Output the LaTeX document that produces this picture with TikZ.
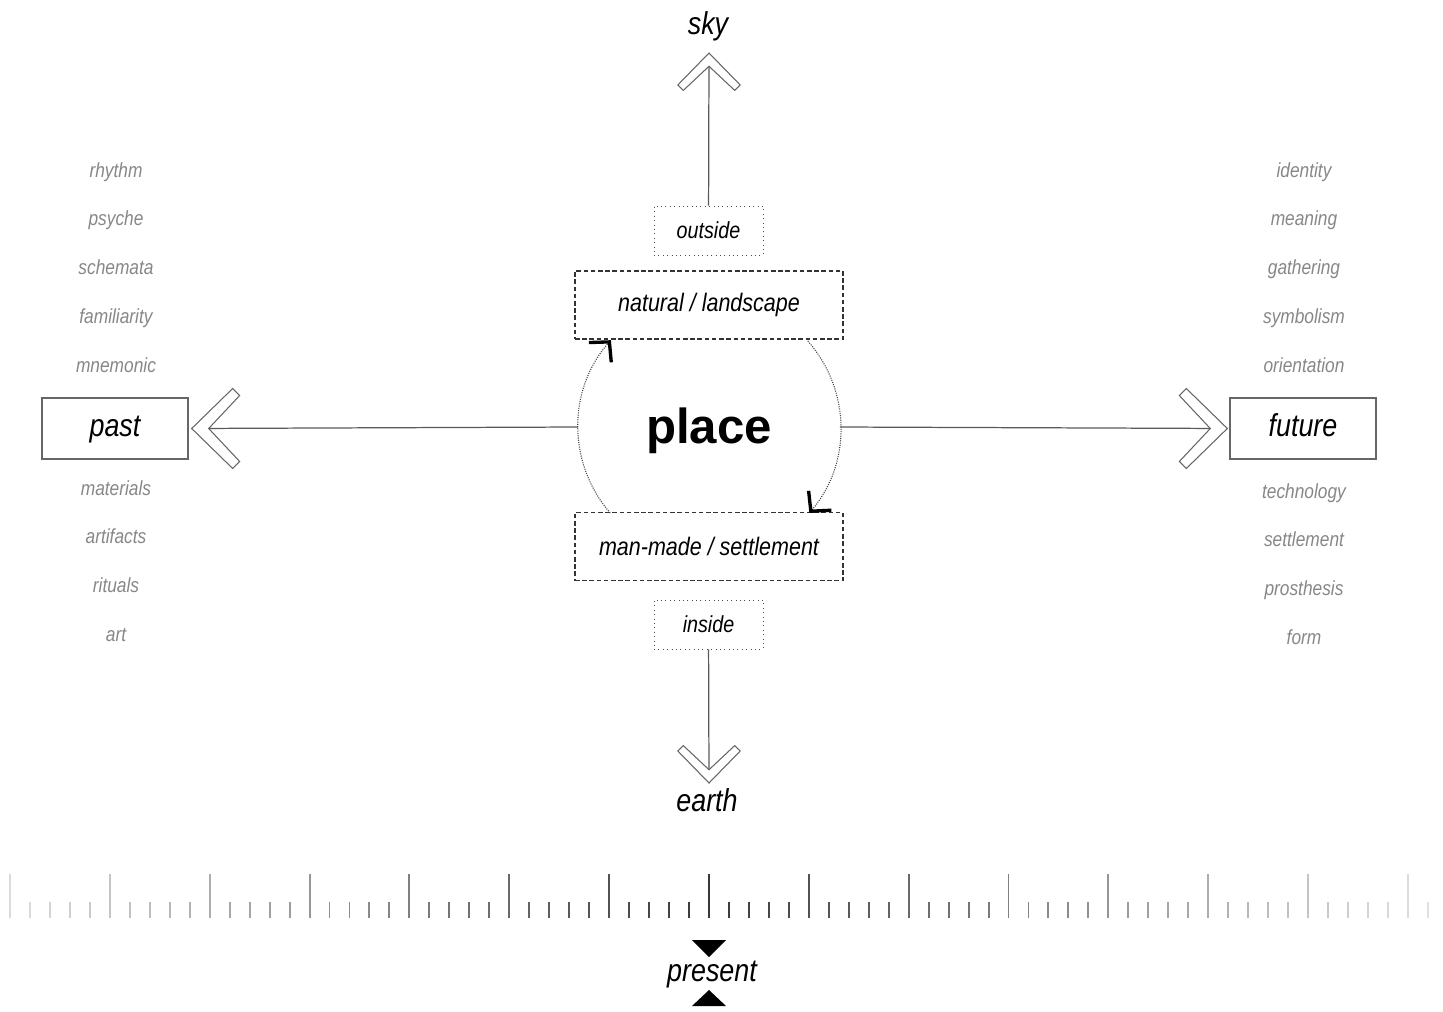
\documentclass[tikz,border=0pt]{standalone}
\usepackage{fontspec}
\setmainfont{Liberation Sans}[FakeStretch=0.85]
\newfontfamily\placefont{Liberation Sans}
\usetikzlibrary{arrows.meta,calc}

\begin{document}
\begin{tikzpicture}[x=0.02cm,y=0.02cm,
	bigword/.style={font=\itshape\fontsize{18}{21}\selectfont,inner sep=0pt,text height=13.5pt,text depth=4pt},
	sideword/.style={font=\itshape\fontsize{11.6}{14}\selectfont,text=black!47,inner sep=0pt,text height=8.5pt,text depth=2.6pt},
	endbox/.style={draw=black!60,line width=0.8pt,minimum width=2.92cm,minimum height=1.22cm,inner sep=0pt,text height=13pt,text depth=3.6pt,font=\itshape\fontsize{18}{21}\selectfont},
	midbox/.style={draw=black!80,line width=0.7pt,dash pattern=on 2.6pt off 1.5pt,fill=white,minimum width=5.36cm,minimum height=1.36cm,font=\itshape\fontsize{14.4}{17}\selectfont},
	tinybox/.style={draw=black!70,line width=0.5pt,dotted,minimum width=2.18cm,minimum height=0.98cm,font=\itshape\fontsize{13.2}{15}\selectfont},
	axisline/.style={draw=black!65,line width=0.7pt},
	cyclearc/.style={draw=black!75,line width=0.6pt,dash pattern=on 0.6pt off 0.7pt,-{Straight Barb[length=8pt,width=17pt,line width=1.9pt,black]}},
	tick/.style={line width=1.1pt},
	chev/.pic={\filldraw[fill=white,draw=black!60,line width=0.6pt] (0,0) -- (-41,40) -- (-48,33) -- (-17,0) -- (-48,-33) -- (-41,-40) -- cycle;}
	]
	\useasboundingbox (0,0) rectangle (1443,-1011);

	% centre
	\node[circle,minimum size=5.24cm,inner sep=0pt,outer sep=0pt,text height=25pt,text depth=6pt,font=\placefont\bfseries\fontsize{28}{30}\selectfont] (place) at (709,-427) {place};
	\node[midbox] (natural) at (709,-305) {natural / landscape};
	\node[midbox] (manmade) at (709,-546.5) {man-made / settlement};
	\node[tinybox] (outside) at (708.5,-230.5) {outside};
	\node[tinybox] (inside) at (708.5,-624.5) {inside};
	\draw[cyclearc] (place.221) arc[start angle=221,end angle=138.5,radius=131];
	\draw[cyclearc] (place.41.5) arc[start angle=41.5,end angle=-40.5,radius=131];

	% axes
	\node[bigword] (sky) at (708,-26) {sky};
	\node[bigword] (earth) at (707,-803) {earth};
	\node[endbox] (past) at (115,-428.5) {past};
	\node[endbox] (future) at (1303,-428.5) {future};
	\coordinate (skytip) at (709,-53);
	\coordinate (earthtip) at (709,-783);
	\coordinate (pasttip) at ($(past.east)+(3,0)$);
	\coordinate (futuretip) at ($(future.west)+(-2,0)$);
	\draw[axisline] (outside) -- (skytip);
	\draw[axisline] (inside) -- (earthtip);
	\draw[axisline] (place.west) -- (pasttip);
	\draw[axisline] (place.east) -- (futuretip);
	\pic[rotate=90,scale=0.78] at (skytip) {chev};
	\pic[rotate=-90,scale=0.78] at (earthtip) {chev};
	\pic[rotate=180] at (pasttip) {chev};
	\pic at (futuretip) {chev};

	% side words
	\foreach \w [count=\k] in {rhythm,psyche,schemata,familiarity,mnemonic}
		\node[sideword] (pasttop\k) at (116,{-172-48.75*(\k-1)}) {\w};
	\foreach \w [count=\k] in {materials,artifacts,rituals,art}
		\node[sideword] (pastlow\k) at (116,{-490-48.7*(\k-1)}) {\w};
	\foreach \w [count=\k] in {identity,meaning,gathering,symbolism,orientation}
		\node[sideword] (futuretop\k) at (1304,{-172-48.75*(\k-1)}) {\w};
	\foreach \w [count=\k] in {technology,settlement,prosthesis,form}
		\node[sideword] (futurelow\k) at (1304,{-493-48.7*(\k-1)}) {\w};

	% time ruler
	\foreach \i in {0,...,71}{
		\pgfmathsetmacro\tx{10+19.97*\i}
		\pgfmathsetmacro\ttop{mod(\i,5)==0 ? 874 : 902}
		\pgfmathtruncatemacro\tone{78-64*abs(\i-35)/35}
		\draw[tick,draw=black!\tone] (\tx,-\ttop) -- (\tx,-918);
	}
	\node[bigword] (present) at (712,-973) {present};
	\fill ($(present.center)+(-20,33)$) -- ++(34,0) -- ++(-17,-17) -- cycle;
	\fill ($(present.center)+(-20,-33)$) -- ++(34,0) -- ++(-17,16) -- cycle;
\end{tikzpicture}
\end{document}
